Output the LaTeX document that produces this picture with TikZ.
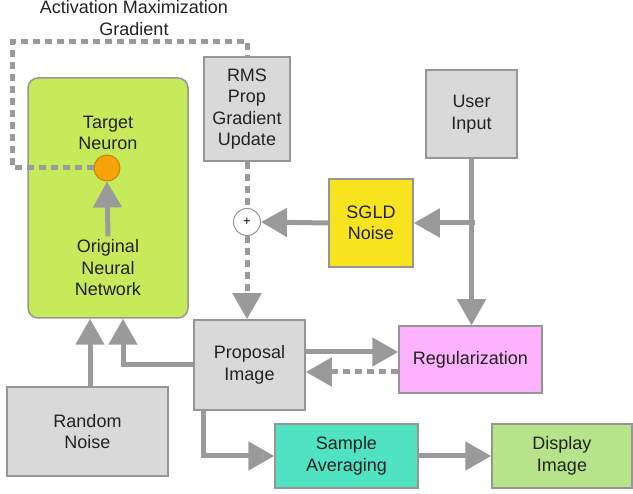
\documentclass[tikz,border=0pt]{standalone}
\usepackage{fontspec}
\setmainfont{Liberation Sans}
\usetikzlibrary{arrows.meta,positioning,calc}
\definecolor{bd}{RGB}{150,150,150}
\definecolor{ln}{RGB}{154,154,154}
\definecolor{gb}{RGB}{217,217,217}
\definecolor{lime}{RGB}{199,234,91}
\definecolor{sun}{RGB}{247,228,30}
\definecolor{rose}{RGB}{253,178,253}
\definecolor{teal}{RGB}{80,227,194}
\definecolor{leaf}{RGB}{183,228,138}
\definecolor{amber}{RGB}{247,164,10}
\definecolor{txt}{RGB}{34,34,34}

\begin{document}
\begin{tikzpicture}[x=1pt, y=-1pt,
  font=\fontsize{18}{21.5}\selectfont,
  box/.style={draw=bd, line width=1.5pt, fill=gb, align=center, text=txt, inner sep=0pt},
  lbl/.style={align=center, text=txt},
  arrow/.style={-{Triangle[length=26pt,width=28pt]}, line width=5pt, color=ln},
  dotline/.style={line width=5pt, color=ln, dash pattern=on 7pt off 5pt},
  dotarr/.style={dotline, -{Triangle[length=26pt,width=28pt]}}
]
\useasboundingbox (0,0) rectangle (633,494);
% network block with the target neuron
\node[box, fill=lime, rounded corners=10pt, minimum width=160pt, minimum height=240pt] (net) at (108,198) {};
\node[lbl] (target) at (108,133) {Target\\Neuron};
\node[circle, draw=amber!80!black, line width=1pt, fill=amber, minimum size=26pt, inner sep=0pt] (neuron) at (107,168) {};
\node[lbl] (orig) at (108,268) {Original\\Neural\\Network};
\draw[arrow] (orig.north) -- (neuron.south);
% gradient update path
\node[lbl] (amg) at (134,18) {Activation Maximization\\Gradient};
\node[box, minimum width=86pt, minimum height=104pt] (rms) at (247,109) {RMS\\Prop\\Gradient\\Update};
\coordinate (loop) at (12,42);
\draw[dotline] (neuron.west) -| (loop) -| (rms.north);
\node[circle, draw=bd, line width=1pt, fill=white, minimum size=27pt, inner sep=0pt, font=\fontsize{13}{13}\selectfont] (plus) at (247,222) {+};
\draw[dotline] (rms.south) -- (plus.north);
% sources
\node[box, fill=sun, minimum width=84pt, minimum height=88pt] (sgld) at (371,223) {SGLD\\Noise};
\node[box, minimum width=91pt, minimum height=88pt] (user) at (471.5,114) {User\\Input};
\node[box, minimum width=111pt, minimum height=90pt] (prop) at (249.5,365) {Proposal\\Image};
\node[box, fill=rose, minimum width=143pt, minimum height=67pt] (reg) at (470.5,359.5) {Regularization};
\node[box, minimum width=161pt, minimum height=89pt] (rand) at (87.5,431.5) {Random\\Noise};
\node[box, fill=teal, minimum width=143pt, minimum height=64pt] (samp) at (346.5,456) {Sample\\Averaging};
\node[box, fill=leaf, minimum width=140pt, minimum height=64pt] (disp) at (562,456) {Display\\Image};
\draw[dotarr] (plus.south) -- (plus.south |- prop.north);
\draw[arrow] (sgld.west) -- (plus.east);
\draw[arrow] (user.south) -- (user.south |- reg.north);
\coordinate (split) at ($(user.south |- sgld.east)+(3,0)$);
\draw[arrow] (split) -- (sgld.east);
% proposal loop
\draw[arrow] ([yshift=13pt]prop.east) -- ([yshift=13pt]prop.east -| reg.west);
\draw[dotarr] ([yshift=-7pt]prop.east -| reg.west) -- ([yshift=-7pt]prop.east);
\draw[arrow] (prop.west) -| ([xshift=15pt]net.south);
\draw[arrow] ([xshift=2.5pt]rand.north) -- ([xshift=2.5pt]rand.north |- net.south);
\draw[arrow] ([xshift=10pt]prop.south west) |- (samp.west);
\draw[arrow] (samp.east) -- (disp.west);
\end{tikzpicture}
\end{document}
